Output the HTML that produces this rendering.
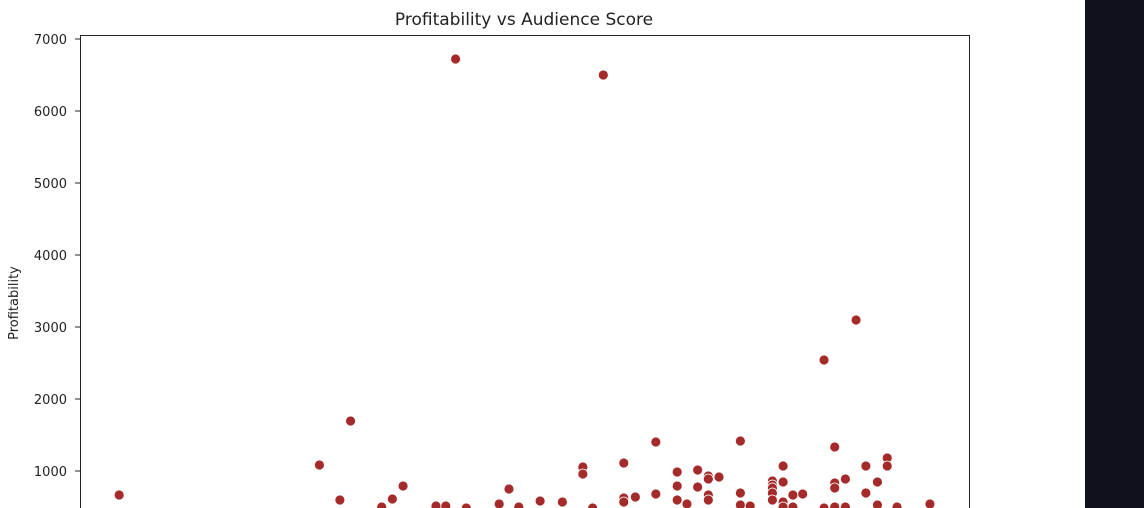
<!DOCTYPE html>
<html><head><meta charset="utf-8"><style>
body{margin:0;width:1144px;height:508px;overflow:hidden;background:#fff;font-family:"DejaVu Sans","Liberation Sans",sans-serif}
#side{position:absolute;left:1085px;top:0;width:59px;height:508px;background:#0f121a}
</style></head><body>
<svg id="chart" width="1144" height="508" style="position:absolute;left:0;top:0;overflow:hidden">
<text x="524" y="25" text-anchor="middle" font-size="17" fill="#222">Profitability vs Audience Score</text>
<text transform="translate(18,303) rotate(-90)" text-anchor="middle" font-size="13" fill="#222">Profitability</text>
<g id="yticks"></g>
<defs><clipPath id="clip"><rect x="80" y="35" width="890" height="473"/></clipPath></defs>
<g id="pts" clip-path="url(#clip)"></g>
<g stroke="#222" stroke-width="1">
<line x1="80" y1="35.5" x2="970" y2="35.5"/>
<line x1="80.5" y1="35" x2="80.5" y2="508"/>
<line x1="969.5" y1="35" x2="969.5" y2="508"/>
</g>
</svg>
<div id="side"></div>
<script>
const yTicks=[1000,2000,3000,4000,5000,6000,7000];
const audienceScore=[4.4,26.9,29.2,30.4,33.9,35.1,36.3,40,41.1,42.2,43.4,47.1,48.2,49.3,51.7,54.2,56.5,56.5,57.6,58.8,61.1,61.1,61.1,62.4,64.7,64.7,67.1,67.1,67.1,68.2,69.4,69.4,70.6,70.6,70.6,70.6,71.8,74.2,74.2,74.2,75.3,77.8,77.8,77.8,77.8,77.8,79,79,79,80.1,81.2,83.6,84.8,84.8,84.8,86,87.2,88.3,88.3,89.6,90.7,90.7,91.8,95.5,89.6,86,84.8,83.6,80.1,79];
const profitability=[667,1083,597,1694,500,611,792,514,514,6722,486,542,750,500,583,569,1056,958,486,6500,1111,625,569,639,1403,681,986,597,792,542,1014,778,931,889,667,597,917,1417,694,528,514,861,806,764,694,597,1069,847,569,667,681,2542,1333,833,764,889,3097,1069,694,847,1181,1069,500,542,528,500,500,486,500,500];
const svg=document.getElementById('chart');
const NS='http://www.w3.org/2000/svg';
const xS=v=>80+v*8.9;
const yS=v=>543-v*0.072;
const tg=document.getElementById('yticks');
yTicks.forEach(t=>{
 const l=document.createElementNS(NS,'line');
 
 
 l.setAttribute('x1',75);l.setAttribute('x2',80);l.setAttribute('y1',yS(t));l.setAttribute('y2',yS(t));l.setAttribute('stroke','#222');
 tg.appendChild(l);
 const tx=document.createElementNS(NS,'text');
 
 
 tx.setAttribute('x',67);tx.setAttribute('y',yS(t)+5);tx.setAttribute('text-anchor','end');tx.setAttribute('font-size','13');tx.setAttribute('fill','#222');
 tx.textContent=t;tg.appendChild(tx);
});
const pg=document.getElementById('pts');
audienceScore.forEach((s,i)=>{
 const c=document.createElementNS(NS,'circle');
 
 
 c.setAttribute('cx',xS(s));c.setAttribute('cy',yS(profitability[i]));c.setAttribute('r',5);
 c.setAttribute('fill','#a52a2a');c.setAttribute('stroke','#fff');c.setAttribute('stroke-width','0.8');
 pg.appendChild(c);
});
</script>
</body></html>
